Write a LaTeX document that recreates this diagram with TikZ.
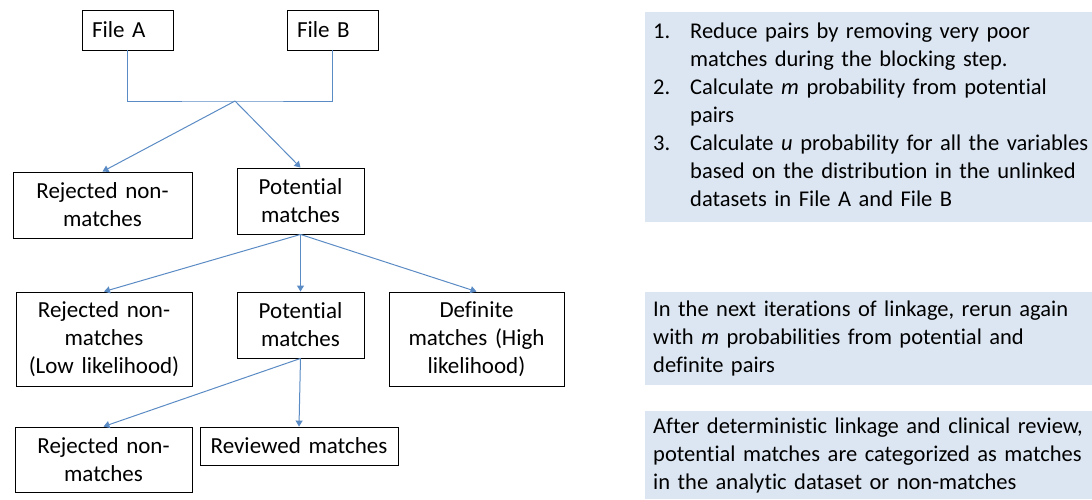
\documentclass[tikz,border=0pt]{standalone}
\usepackage{fontspec}
\setmainfont[Ligatures=NoCommon]{Carlito}
\usetikzlibrary{arrows.meta}
\definecolor{linkblue}{HTML}{5B8BC4}
\definecolor{notefill}{HTML}{DCE6F2}
\newcommand{\notestyle}{\fontsize{22.5}{28}\selectfont\spaceskip=0.17em\relax}
\begin{document}
\begin{tikzpicture}[x=1pt,y=-1pt,
  every node/.style={font=\fontsize{23}{28}\selectfont},
  box/.style={draw=black, fill=white, line width=0.9pt, inner xsep=5pt, inner ysep=0pt, align=center},
  note/.style={fill=notefill, anchor=north west, inner xsep=8pt, inner ysep=0pt,
               text width=431pt, minimum width=447pt, align=left, font=\notestyle},
  link/.style={draw=linkblue, line width=1pt},
  flow/.style={link, -{Triangle[width=7pt,length=6pt]}}]
\useasboundingbox (0,0) rectangle (1092,499);

% source files
\node[box, minimum width=91pt, minimum height=40pt, inner xsep=10pt, text width=71pt, align=left] (fa) at (127.5,30) {File A};
\node[box, minimum width=91pt, minimum height=40pt, inner xsep=10pt, text width=71pt, align=left] (fb) at (332.5,30) {File B};

% blocking step
\node[box, minimum width=179pt, minimum height=66pt, text width=169pt] (rej1) at (102.5,205) {Rejected non-\\matches};
\node[box, minimum width=127pt, minimum height=66pt, text width=117pt] (pot1) at (300.5,201) {Potential\\matches};

% probabilistic linkage
\node[box, minimum width=176pt, minimum height=94pt, text width=166pt] (rej2) at (104,339) {Rejected non-\\matches\\(Low likelihood)};
\node[box, minimum width=127pt, minimum height=66pt, text width=117pt] (pot2) at (300.5,325) {Potential\\matches};
\node[box, minimum width=175pt, minimum height=94pt, text width=165pt] (def) at (476.5,339) {Definite\\matches (High\\likelihood)};

% review
\node[box, minimum width=177pt, minimum height=65pt, text width=167pt] (rej3) at (103.5,459.5) {Rejected non-\\matches};
\node[box, minimum width=198pt, minimum height=38pt, text width=188pt] (rev) at (299,446) {Reviewed matches};

% connectors
\coordinate (jn) at (235,101);
\draw[link] (fa.south) |- (jn) -| (fb.south);
\draw[flow] (jn) -- (rej1.north);
\draw[flow] (jn) -- (pot1.north);
\draw[flow] (pot1.south) -- (rej2.north);
\draw[flow] (pot1.south) -- (pot2.north);
\draw[flow] (pot1.south) -- (def.north);
\draw[flow] (pot2.south) -- (rej3.north);
\draw[flow] (pot2.south) -- (rev.north);

% notes
\node[note, minimum height=210pt] (n1) at (645,12) {%
\begin{tabular}{@{}p{37pt}@{}l@{}}
1. & Reduce pairs by removing very poor\\
   & matches during the blocking step.\\
2. & Calculate \textit{m} probability from potential\\
   & pairs\\
3. & Calculate \textit{u} probability for all the variables\\
   & based on the distribution in the unlinked\\
   & datasets in File A and File B
\end{tabular}};
\node[note, minimum height=93pt] (n2) at (645,292) {%
\mbox{In the next iterations of linkage, rerun again}\\
\mbox{with \textit{m} probabilities from potential and}\\
\mbox{definite pairs}};
\node[note, minimum height=88pt] (n3) at (645,411) {%
\mbox{After deterministic linkage and clinical review,}\\
\mbox{potential matches are categorized as matches}\\
\mbox{in the analytic dataset or non-matches}};
\end{tikzpicture}
\end{document}
